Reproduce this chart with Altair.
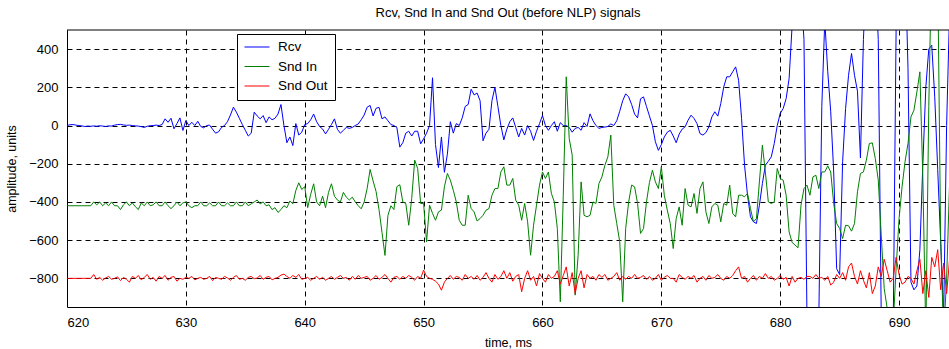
import altair as alt
import pandas as pd

# sample grid: 620 ms + 0.25 ms * index
T0 = 620.0
DT = 0.25

series_names = ["Rcv", "Snd In", "Snd Out"]
series_colors = ["#0000ff", "#008000", "#ff0000"]

rcv = [
    0, 4, 5, 2,  0, -2, -5, -3,  -4, -2, -4, -1,  -3, -5, -2, -3,
    2, 5, 6, 3,  1, 2, 0, -2,  -3, -6, -10, -4,  -1, 0, 2, 0,
    5, 35, 17, 38,  -17, 10, 40, -26,  26, 0, 17, 0,  22, -5, -12, 0,
    2, -20, -40, -33,  -10, 0, 20, 55,  96, 70, 38, 5,  -25, -55, -40, 70,
    50, 35, 52, 15,  45, 30, 38, 60,  110, 0, -90, -60,  -105, 10, -50, -35,
    5, 10, 30, 60,  20, -5, -18, -44,  -20, 5, 35, -20,  -40, -25, -10, -15,
    -10, 0, 8, 30,  55, 96, 105, 50,  90, 95, 35, 45,  25, 5, 0, -10,
    -113, -90, -40, -30,  -55, -30, -30, -96,  -70, -40, 0, 250,  -100, -220, -60, -245,
    -150, 20, -40, 10,  0, 40, 100, 110,  190, 160, 170, 130,  -80, -40, -20, 130,
    200, 100, 0, -75,  -20, 20, 40, -10,  -60, -15, -50, 0,  -30, -78, -30, 10,
    52, 0, -25, 0,  20, -30, 15, 0,  0, -10, -35, -15,  -10, -25, 15, -5,
    61, 25, 0, -15,  -10, -8, -5, 8,  0, 25, 75, 130,  166, 150, 110, 60,
    40, 140, 150, 100,  50, 0, -85, -130,  -100, -60, -35, -25,  -55, -90, -45, -19,
    -7, 28, 54, 37,  10, -42, -50, -37,  -7, 45, 72, 49,  115, 202, 255, 255,
    281, 307, 237, 37,  -208, -365, -478, -504,  -513, -417, -304, -208,  -187, -164, -94, 0,
    63, 89, 141, 246,  520, 750, 800, 700,  450, -1000, -1300, -1500,  -1300, -1000, 100, 550,
    281, 72, -243, -750,  -780, -190, 89, 263,  377, 263, 180, -170,  450, 800, 1000, 900,
    800, 450, -1000, -1400,  -1500, -1300, -1100, 500,  900, 1100, 900, 300,  -820, -860, -840, -650,
    -200, 200, 400, 420,  150, -230, -608, -1000,  0, 600,
]

snd_in = [
    -420, -420, -420, -420,  -420, -420, -420, -420,  -420, -400, -415, -400,  -420, -405, -420, -400,
    -420, -420, -440, -415,  -400, -420, -405, -425,  -440, -405, -420, -400,  -420, -415, -400, -420,
    -420, -400, -420, -435,  -420, -400, -420, -405,  -400, -420, -430, -420,  -420, -400, -420, -420,
    -405, -420, -420, -400,  -420, -420, -405, -420,  -420, -400, -420, -420,  -400, -420, -410, -400,
    -390, -410, -400, -420,  -415, -440, -430, -455,  -440, -420, -430, -395,  -410, -340, -300, -335,
    -320, -430, -360, -305,  -400, -420, -370, -430,  -350, -305, -370, -390,  -400, -350, -375, -390,
    -375, -400, -420, -436,  -400, -330, -230, -290,  -345, -440, -560, -680,  -470, -420, -440, -320,
    -310, -400, -408, -522,  -382, -181, -225, -408,  -408, -609, -417, -460,  -496, -452, -443, -321,
    -251, -286, -339, -400,  -496, -522, -522, -365,  -435, -452, -500, -487,  -470, -443, -435, -365,
    -330, -330, -243, -216,  -312, -312, -277, -391,  -417, -496, -408, -504,  -679, -522, -417, -312,
    -243, -277, -243, -356,  -400, -539, -923, -365,  255, -68, -155, -888,  -679, -295, -470, -478,
    -470, -400, -408, -304,  -269, -208, -164, -50,  -417, -513, -609, -923,  -539, -400, -312, -321,
    -408, -565, -539, -400,  -298, -234, -295, -330,  -216, -365, -443, -513,  -644, -487, -426, -522,
    -330, -417, -426, -356,  -460, -330, -295, -452,  -513, -426, -408, -417,  -504, -408, -417, -312,
    -460, -478, -365, -365,  -373, -356, -435, -504,  -487, -295, -103, -243,  -400, -408, -400, -225,
    -277, -286, -365, -557,  -612, -626, -640, -417,  -330, -312, -365, -269,  -260, -330, -243, -243,
    -211, -243, -408, -513,  -539, -592, -522, -525,  -553, -513, -347, -251,  -243, -181, -94, -91,
    -173, -286, -574, -853,  -958, -1100, -1050, -749,  -487, -321, -190, -94,  45, 80, 176, 281,
    -277, -1100, 100, 900,  1000, 800, -600, -1100,  -800, -300,
]

snd_out = [
    -800, -800, -800, -800,  -800, -800, -800, -800,  -800, -780, -805, -795,  -810, -798, -790, -805,
    -800, -792, -812, -795,  -805, -820, -790, -800,  -785, -808, -795, -780,  -805, -795, -815, -790,
    -800, -785, -810, -795,  -790, -815, -800, -805,  -795, -800, -790, -808,  -800, -795, -805, -800,
    -790, -812, -795, -800,  -805, -790, -798, -810,  -795, -785, -805, -800,  -810, -795, -790, -802,
    -798, -785, -805, -795,  -790, -808, -800, -795,  -783, -778, -790, -800,  -785, -795, -780, -805,
    -800, -795, -810, -800,  -790, -805, -795, -810,  -800, -790, -805, -795,  -785, -800, -795, -810,
    -790, -805, -785, -800,  -795, -790, -810, -800,  -785, -805, -795, -780,  -800, -820, -795, -790,
    -805, -790, -800, -785,  -795, -810, -790, -800,  -757, -790, -800, -805,  -815, -830, -862, -820,
    -800, -785, -805, -790,  -795, -810, -780, -800,  -790, -805, -785, -810,  -795, -770, -800, -820,
    -780, -805, -790, -760,  -800, -770, -815, -790,  -780, -870, -800, -760,  -810, -790, -840, -775,
    -800, -820, -780, -800,  -790, -760, -830, -785,  -740, -840, -770, -880,  -800, -760, -850, -780,
    -800, -790, -810, -780,  -795, -780, -810, -800,  -790, -770, -810, -790,  -805, -790, -800, -780,
    -800, -795, -785, -805,  -790, -810, -800, -780,  -810, -795, -785, -800,  -800, -820, -780, -795,
    -805, -790, -800, -785,  -820, -800, -790, -810,  -785, -800, -795, -780,  -800, -810, -790, -800,
    -785, -760, -740, -800,  -790, -820, -800, -785,  -810, -790, -800, -775,  -800, -790, -810, -800,
    -785, -805, -795, -840,  -790, -820, -800, -795,  -805, -790, -790, -800,  -780, -800, -795, -810,
    -790, -835, -820, -780,  -800, -770, -810, -740,  -720, -790, -830, -760,  -810, -850, -770, -880,
    -840, -740, -790, -700,  -760, -820, -800, -690,  -780, -830, -820, -790,  -800, -830, -760, -700,
    -880, -760, -900, -690,  -740, -650, -860, -720,  -880, -700,
]

x_ticks = [620, 630, 640, 650, 660, 670, 680, 690]
y_ticks = [-800, -600, -400, -200, 0, 200, 400]
x_domain = [620, 694.2]
y_domain = [-950, 500]

rows = []
for name, vals in zip(series_names, [rcv, snd_in, snd_out]):
    for i, v in enumerate(vals):
        rows.append({"t": T0 + DT * i, "v": v, "s": name, "o": i})
df = pd.DataFrame(rows)

FONT = "Liberation Sans"
x_scale = alt.Scale(domain=x_domain, nice=False, zero=False)
y_scale = alt.Scale(domain=y_domain, nice=False, zero=False)
x_axis = alt.Axis(values=x_ticks, title="time, ms", format="d")
y_axis = alt.Axis(values=y_ticks, title="amplitude, units", format="d")

lines = alt.Chart(df).mark_line(strokeWidth=1, clip=True).encode(
    x=alt.X("t:Q", scale=x_scale, axis=x_axis),
    y=alt.Y("v:Q", scale=y_scale, axis=y_axis),
    color=alt.Color("s:N",
                    scale=alt.Scale(domain=series_names, range=series_colors),
                    sort=series_names,
                    legend=alt.Legend(orient="none", legendX=170, legendY=4, title=None,
                                      symbolType="stroke", symbolSize=625,
                                      symbolStrokeWidth=1, clipHeight=12,
                                      rowPadding=5.5, padding=7,
                                      strokeColor="black", fillColor="white",
                                      labelFont=FONT, labelFontSize=13.5,
                                      labelColor="black", labelOffset=8, zindex=2)),
    order="o:Q",
)

top_border = alt.Chart(pd.DataFrame({"y": [y_domain[1]]})).mark_rule(
    color="black", strokeWidth=1
).encode(y=alt.Y("y:Q", scale=y_scale, axis=y_axis))

chart = alt.layer(lines, top_border).properties(
    width=882, height=277,
    padding={"left": 67, "top": 30, "right": 0, "bottom": 42},
    autosize=alt.AutoSizeParams(type="none"),
    title=alt.TitleParams("Rcv, Snd In and Snd Out (before NLP) signals",
                          font=FONT, fontSize=13, fontWeight="normal",
                          color="black", anchor="middle", offset=10),
).configure_view(stroke=None).configure_axis(
    zindex=1, domainColor="black", domainWidth=1, ticks=False,
    labelFont=FONT, labelFontSize=13, labelColor="black", labelPadding=9,
    titleFont=FONT, titleFontSize=12.5, titleFontWeight="normal", titleColor="black",
    grid=True, gridColor="black", gridOpacity=1, gridWidth=1, gridDash=[5, 4],
).configure_axisX(titlePadding=7).configure_axisY(titlePadding=10)

chart.save("out.html", embed_options={"renderer": "svg", "actions": False})
